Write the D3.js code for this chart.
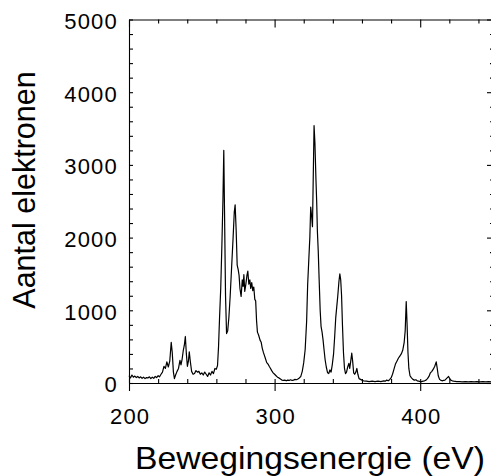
<!DOCTYPE html>
<html>
<head>
<meta charset="utf-8">
<script src="https://cdn.jsdelivr.net/npm/d3@7"></script>
<style>
  body { margin: 0; background: #fff; }
  svg text { font-family: "Liberation Sans", Arial, sans-serif; font-weight: 400; fill: #000; }
  .axis path, .axis line { stroke: #000; stroke-width: 1.1; }
  .tick text { font-size: 22px; letter-spacing: 1.2px; }
</style>
</head>
<body>
<div id="chart"></div>
<script>
// spectrum: energy (eV) and count
const energy = [
  200,201,202,203,204,205,206,207,208,209,210,211,212,213,214,215,216,217,218,219,
  220,221,222,223,224,225,226,227,228,229,229.7,230.5,231.2,232,233,234,235,235.7,236.5,237.3,
  238,238.7,239.4,240.1,240.8,241.4,242.1,243,244,245,246,247,248,249,250,251,252,253,254,255,
  256,257,258,259,260,260.8,261.5,262.2,263,263.8,264.5,265.1,265.7,266.3,267,267.8,268.6,269.5,270.5,271.5,
  272.3,272.9,273.6,274.3,275,275.6,276.2,277,277.8,278.4,278.9,279.5,280.2,281,281.6,282.3,283,283.6,284.3,285,
  285.7,286.4,287,287.6,288.2,289,290,290.8,291.5,292.3,293,293.8,294.6,295.5,296.3,297.2,298,299,300,301,
  302,303,304,305,306,307,308,309,310,311,312,313,314,315,316,317,318,319,320,321,
  322,322.7,323.5,324.2,324.8,325.4,326,326.6,327.1,327.7,328.4,328.9,329.4,330,330.6,331.3,331.9,332.6,333.3,334,
  334.7,335.5,336.4,337.2,338,338.8,339.6,340.5,341.3,342,342.7,343.4,344.2,344.8,345.4,346,346.6,347.3,348,348.7,
  349.4,350.2,351,351.6,352.3,353,353.6,354.3,355,355.8,356.5,357.2,358,359,360,361,363,365,367,369,
  371,373,375,376,377,378,379,380,381,382,383,384,385,386,387,388,389,389.7,390.4,391,
  391.6,392.2,393,394,395,396,397,398,399,400,401,402,403,404,405,406,407,408,409,410,
  411,411.7,412.4,413.3,414,415,416,417,418,419,419.5,420,421,422,423,425,427,429,431,433,
  435,437,439,441,443,445,447,449,450
];
const counts = [
  100,70,110,80,95,75,90,70,85,65,80,60,75,70,85,60,80,65,90,75,
  100,85,120,150,230,200,290,220,300,560,420,150,60,110,160,200,310,250,330,450,
  520,640,400,230,300,430,300,160,120,130,170,150,160,120,140,110,150,120,90,140,
  110,160,130,200,190,240,500,900,1300,1900,2500,3200,2200,1200,680,720,900,1200,1600,2000,
  2350,2450,2100,1620,1560,1480,1300,1190,1420,1330,1490,1260,1350,1480,1540,1360,1420,1300,1380,1270,
  1320,1150,1130,860,700,660,590,560,480,420,380,330,280,260,230,200,170,140,120,100,
  80,70,55,40,35,40,30,40,35,45,35,40,50,45,55,70,90,160,280,460,
  850,1350,1700,2000,2420,2300,2150,2900,3540,3300,2800,2500,2080,1800,1420,1000,780,700,590,450,
  320,220,140,130,180,150,250,400,650,900,1050,1200,1400,1500,1420,1200,800,420,200,130,
  150,220,270,200,300,410,300,140,120,150,200,120,60,50,40,30,25,20,25,20,
  25,20,30,25,40,30,45,70,120,190,260,300,340,370,400,450,560,720,1120,800,
  420,200,100,70,50,40,45,30,25,20,20,25,30,40,60,90,140,160,190,230,
  290,200,100,50,40,30,35,40,60,80,90,70,40,30,25,20,20,15,20,15,
  20,15,20,15,20,15,20,15,15
];

const xMajor = [200, 300, 400];
const xMinor = [200, 220, 240, 260, 280, 300, 320, 340, 360, 380, 400, 420, 440];
const yMajor = [0, 1000, 2000, 3000, 4000, 5000];
const yMinor = [200, 400, 600, 800, 1200, 1400, 1600, 1800, 2200, 2400, 2600, 2800,
                3200, 3400, 3600, 3800, 4200, 4400, 4600, 4800];

const xLabel = "Bewegingsenergie (eV)";
const yLabel = "Aantal elektronen";

const width = 491, height = 476;
const margin = {left: 129, right: -2, top: 19.5, bottom: 93};

const svg = d3.select("#chart").append("svg")
  .attr("width", width)
  .attr("height", height);

const x = d3.scaleLinear().domain([200, 450]).range([margin.left, width - margin.right]);
const y = d3.scaleLinear().domain([0, 5000]).range([height - margin.bottom, margin.top]);

const data = energy.map((e, i) => ({e: e, n: counts[i]}));

// bottom axis: long major ticks hanging below, short ones pointing in
svg.append("g").attr("class", "axis")
  .attr("transform", `translate(0,${y(0)})`)
  .call(d3.axisBottom(x).tickValues(xMajor).tickSize(8).tickSizeOuter(0).tickPadding(17))
  .call(g => g.selectAll("text").attr("dx", "0.6px"));

svg.append("g").attr("class", "axis")
  .attr("transform", `translate(0,${y(0)})`)
  .call(d3.axisBottom(x).tickValues(xMinor).tickSize(-4).tickSizeOuter(0).tickFormat(""))
  .call(g => g.select(".domain").remove());

// top axis
svg.append("g").attr("class", "axis")
  .attr("transform", `translate(0,${y(5000)})`)
  .call(d3.axisTop(x).tickValues(xMinor).tickSizeOuter(0).tickFormat("")
    .tickSizeInner(-4))
  .call(g => g.selectAll(".tick line").attr("y2", d => xMajor.includes(d) ? 8 : 4));

// left axis
svg.append("g").attr("class", "axis")
  .attr("transform", `translate(${x(200)},0)`)
  .call(d3.axisLeft(y).tickValues(yMajor.concat(yMinor)).tickSize(-4).tickSizeOuter(0).tickPadding(11)
    .tickFormat(d => yMajor.includes(d) ? d : ""))
  .call(g => g.selectAll("text").attr("dy", "0.4em"));

// right axis
svg.append("g").attr("class", "axis")
  .attr("transform", `translate(${x(450)},0)`)
  .call(d3.axisRight(y).tickValues(yMajor.concat(yMinor)).tickSizeOuter(0).tickFormat(""))
  .call(g => g.selectAll(".tick line").attr("x2", d => yMajor.includes(d) ? -6 : -3));

// the spectrum
const line = d3.line()
  .x(d => x(d.e))
  .y(d => y(d.n));

svg.append("path")
  .datum(data)
  .attr("fill", "none")
  .attr("stroke", "#000")
  .attr("stroke-width", 1.2)
  .attr("stroke-linejoin", "round")
  .attr("d", line);

// titles
svg.append("text")
  .attr("x", 135)
  .attr("y", 469)
  .attr("textLength", 350)
  .attr("lengthAdjust", "spacingAndGlyphs")
  .style("font-size", "31.5px")
  .text(xLabel);

svg.append("text")
  .attr("transform", "translate(35,190) rotate(-90)")
  .attr("text-anchor", "middle")
  .style("font-size", "30.5px")
  .text(yLabel);
</script>
</body>
</html>
